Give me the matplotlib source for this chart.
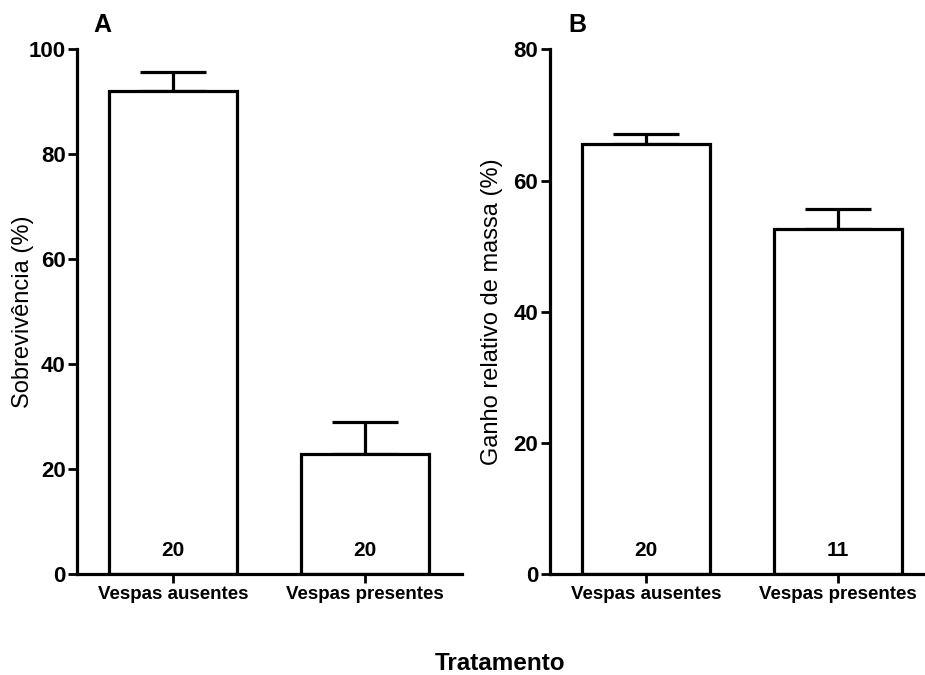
import matplotlib
matplotlib.use("Agg")
from matplotlib import pyplot

# data
treatments = ["Vespas ausentes", "Vespas presentes"]
survival = [92.0, 22.9]
survival_err = [3.8, 6.2]
survival_n = ["20", "20"]
mass_gain = [65.6, 52.7]
mass_gain_err = [1.5, 3.0]
mass_gain_n = ["20", "11"]

pyplot.rcParams["font.family"] = ["Liberation Sans", "DejaVu Sans"]

LW = 2.3


def panel(ax, values, errors, ns, ymax, ystep, ylabel, xmax, label_x):
    x = list(range(len(values)))
    ax.bar(x, values, width=0.667, color="white", edgecolor="black",
           linewidth=LW, zorder=2)
    ax.errorbar(x, values, yerr=[[0] * len(errors), errors], fmt="none",
                ecolor="black", elinewidth=LW, capsize=24, capthick=LW,
                zorder=1)
    # sample sizes just above the base of each bar
    for xi, n in zip(x, ns):
        ax.annotate(n, (xi, 0), xytext=(0, 13.5), textcoords="offset points",
                    ha="center", va="baseline", fontsize=15,
                    fontweight="bold")
    ax.set_xlim(-0.5, xmax)
    ax.set_ylim(0, ymax)
    ax.set_yticks(range(0, ymax + 1, ystep))
    ax.set_xticks(x)
    ax.set_xticklabels(treatments)
    for side in ("top", "right"):
        ax.spines[side].set_visible(False)
    for side in ("left", "bottom"):
        ax.spines[side].set_linewidth(LW)
    ax.tick_params(axis="y", length=6.5, width=2, labelsize=16, pad=2)
    ax.tick_params(axis="x", length=6.5, width=2, labelsize=13.5, pad=2)
    for lab in ax.get_yticklabels() + ax.get_xticklabels():
        lab.set_fontweight("bold")
    ax.set_ylabel(ylabel, fontsize=17)
    ax.yaxis.set_label_coords(label_x, 0.5)


fig = pyplot.figure(figsize=(9.25, 6.75), dpi=100)
ax_a = fig.add_axes([0.0836, 0.1492, 0.4159, 0.7775])
ax_b = fig.add_axes([0.5946, 0.1492, 0.4054, 0.7775])

panel(ax_a, survival, survival_err, survival_n, 100, 20,
      "Sobrevivência (%)", 1.505, -0.113)
panel(ax_b, mass_gain, mass_gain_err, mass_gain_n, 80, 20,
      "Ganho relativo de massa (%)", 1.452, -0.125)

fig.text(0.1005, 0.9526, "A", ha="left", va="baseline", fontsize=18,
         fontweight="bold")
fig.text(0.614, 0.9526, "B", ha="left", va="baseline", fontsize=18,
         fontweight="bold")
fig.text(0.5405, 0.0074, "Tratamento", ha="center", va="baseline",
         fontsize=17.5, fontweight="bold")

pyplot.savefig("out.png", dpi=100)
